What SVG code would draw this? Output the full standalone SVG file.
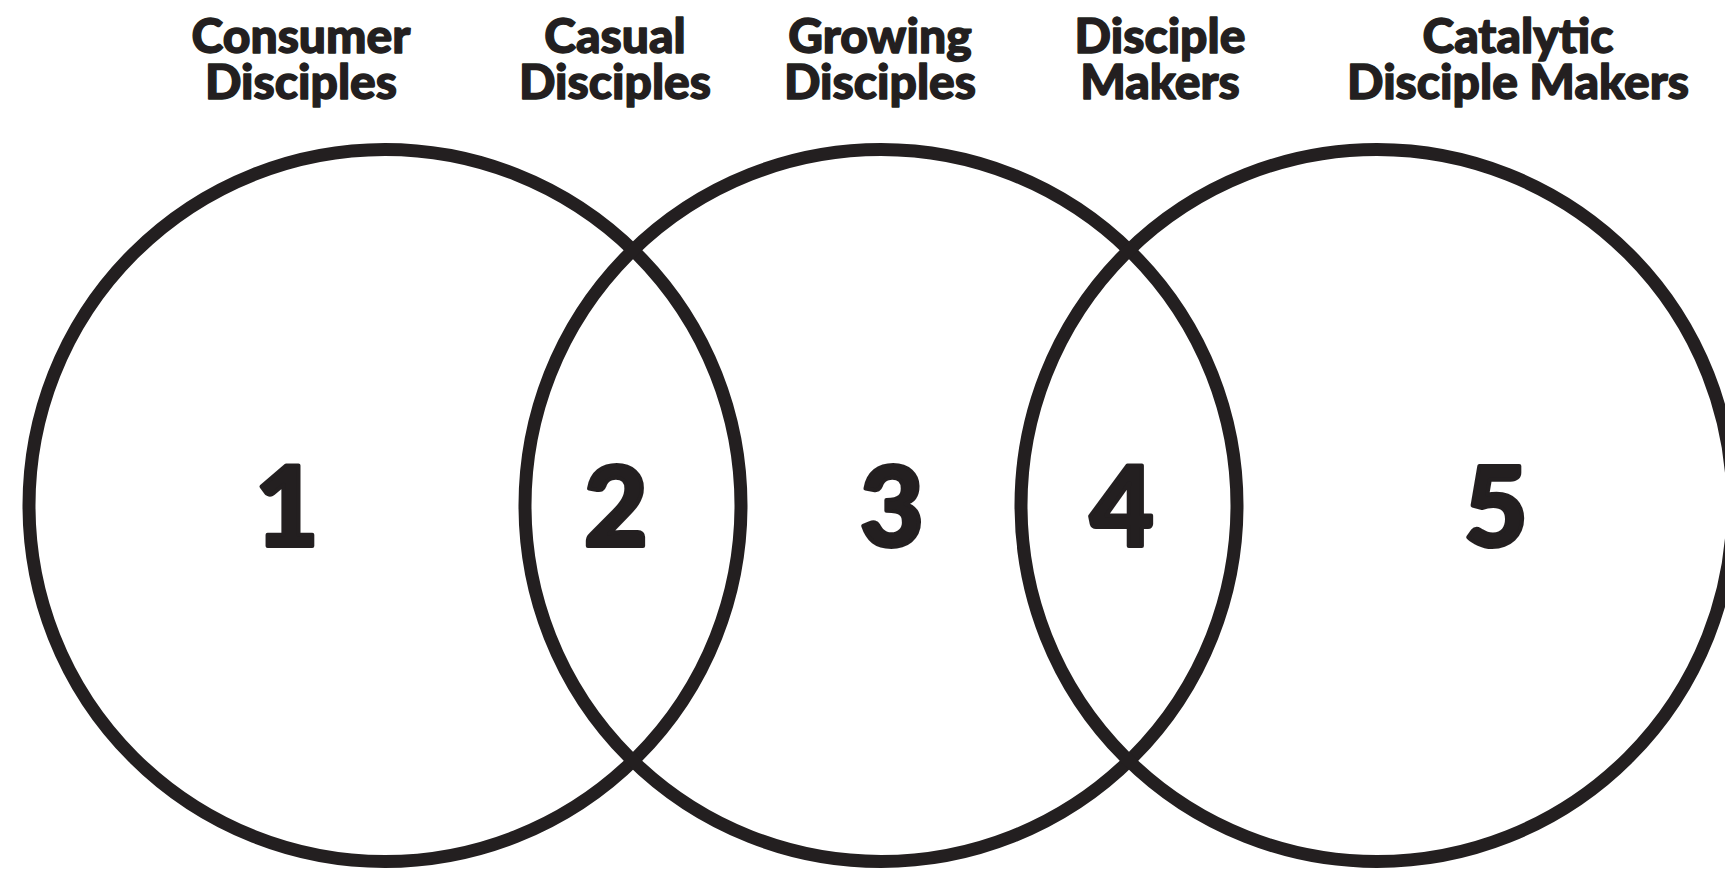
<svg xmlns="http://www.w3.org/2000/svg" width="1725" height="870" viewBox="0 0 1725 870">
<style>
.c{fill:none;stroke:#231f20;stroke-width:13}
.lbl{font-family:Lato,"Open Sans","Liberation Sans",sans-serif;font-weight:900;font-size:48px;fill:#231f20;stroke:#231f20;stroke-width:1.4;stroke-linejoin:round;text-anchor:middle}
.num{font-family:Lato,"Open Sans","Liberation Sans",sans-serif;font-weight:900;font-size:110px;fill:#231f20;stroke:#231f20;stroke-width:4;stroke-linejoin:round;text-anchor:middle}
</style>
<rect width="1725" height="870" fill="#fff"/>
<g id="circles">
<circle id="circle1" class="c" cx="385" cy="505.5" r="356"/>
<circle id="circle2" class="c" cx="881" cy="505.5" r="356"/>
<circle id="circle3" class="c" cx="1377" cy="505.5" r="356"/>
</g>
<g id="label1"><text class="lbl" x="301" y="53"><tspan x="301">Consumer</tspan><tspan x="301" dy="46">Disciples</tspan></text></g>
<g id="label2"><text class="lbl" x="615" y="53"><tspan x="615">Casual</tspan><tspan x="615" dy="46">Disciples</tspan></text></g>
<g id="label3"><text class="lbl" x="880" y="53"><tspan x="880">Growing</tspan><tspan x="880" dy="46">Disciples</tspan></text></g>
<g id="label4"><text class="lbl" x="1160" y="53"><tspan x="1160">Disciple</tspan><tspan x="1160" dy="46">Makers</tspan></text></g>
<g id="label5"><text class="lbl" x="1518" y="53"><tspan x="1518">Catalytic</tspan><tspan x="1518" dy="46">Disciple Makers</tspan></text></g>
<g id="n1"><text class="num" x="287" y="546">1</text></g>
<g id="n2"><text class="num" x="616" y="546">2</text></g>
<g id="n3"><text class="num" x="892" y="546">3</text></g>
<g id="n4"><text class="num" x="1122" y="546">4</text></g>
<g id="n5"><text class="num" x="1496" y="546">5</text></g>
</svg>
